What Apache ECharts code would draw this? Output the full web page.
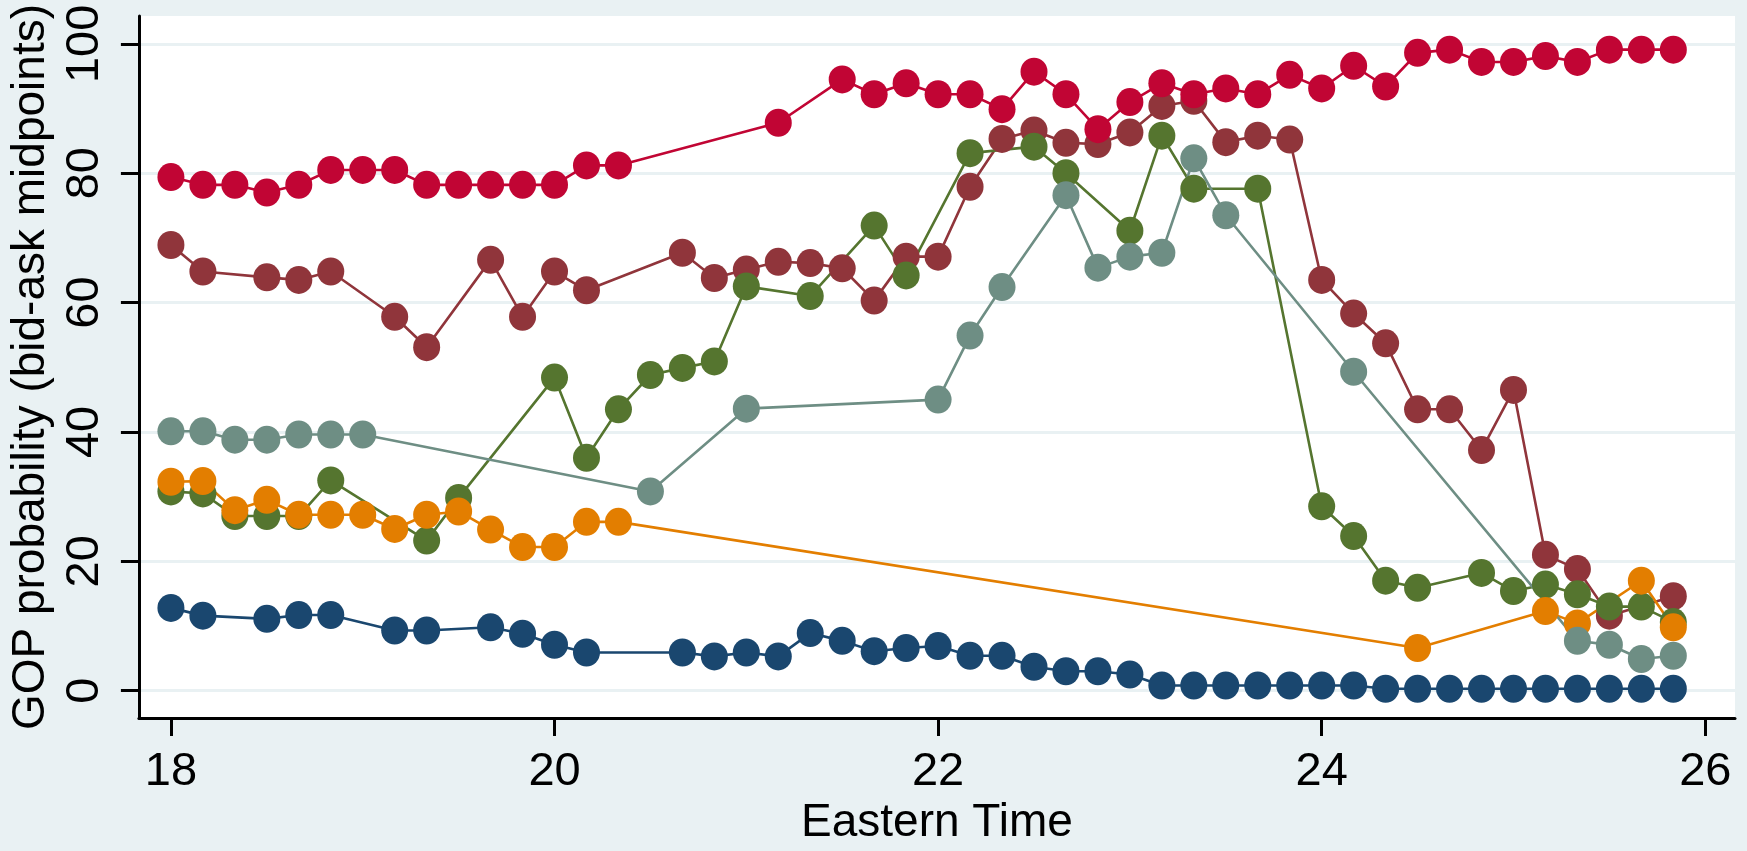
<!DOCTYPE html>
<html>
<head>
<meta charset="utf-8">
<script src="https://cdn.jsdelivr.net/npm/echarts@6/dist/echarts.min.js"></script>
<style>
  html, body { margin: 0; padding: 0; background: #e9f1f3; }
  #chart { width: 1747px; height: 851px; }
</style>
</head>
<body>
<div id="chart"></div>
<script>
// Tick positions
const xTicks = [18, 20, 22, 24, 26];
const yTicks = [0, 20, 40, 60, 80, 100];

// Bid-ask midpoints, [Eastern clock time, GOP probability]
const navySeries = [
  ['18:00', 12.8], ['18:10', 11.6], ['18:30', 11.1], ['18:40', 11.7], ['18:50', 11.7],
  ['19:10', 9.3], ['19:20', 9.3], ['19:40', 9.8], ['19:50', 8.8], ['20:00', 7.1],
  ['20:10', 5.9], ['20:40', 5.9], ['20:50', 5.3], ['21:00', 5.9], ['21:10', 5.3],
  ['21:20', 8.9], ['21:30', 7.7], ['21:40', 6.1], ['21:50', 6.6], ['22:00', 6.9],
  ['22:10', 5.4], ['22:20', 5.4], ['22:30', 3.7], ['22:40', 3.0], ['22:50', 3.0],
  ['23:00', 2.5], ['23:10', 0.8], ['23:20', 0.8], ['23:30', 0.8], ['23:40', 0.8],
  ['23:50', 0.8], ['24:00', 0.8], ['24:10', 0.8], ['24:20', 0.3], ['24:30', 0.3],
  ['24:40', 0.3], ['24:50', 0.3], ['25:00', 0.3], ['25:10', 0.3], ['25:20', 0.3],
  ['25:30', 0.3], ['25:40', 0.3], ['25:50', 0.3]
];

const maroonSeries = [
  ['18:00', 68.9], ['18:10', 64.8], ['18:30', 63.9], ['18:40', 63.5], ['18:50', 64.8],
  ['19:10', 57.8], ['19:20', 53.1], ['19:40', 66.6], ['19:50', 57.8], ['20:00', 64.8],
  ['20:10', 61.9], ['20:40', 67.7], ['20:50', 63.8], ['21:00', 65.1], ['21:10', 66.3],
  ['21:20', 66.1], ['21:30', 65.3], ['21:40', 60.3], ['21:50', 67.1], ['22:00', 67.1],
  ['22:10', 77.9], ['22:20', 85.3], ['22:30', 86.6], ['22:40', 84.7], ['22:50', 84.5],
  ['23:00', 86.3], ['23:10', 90.4], ['23:20', 91.2], ['23:30', 84.8], ['23:40', 85.8],
  ['23:50', 85.2], ['24:00', 63.5], ['24:10', 58.3], ['24:20', 53.7], ['24:30', 43.5],
  ['24:40', 43.5], ['24:50', 37.2], ['25:00', 46.5], ['25:10', 21.0], ['25:20', 18.8],
  ['25:30', 11.6], ['25:50', 14.6]
];

const greenSeries = [
  ['18:00', 30.8], ['18:10', 30.5], ['18:20', 27.0], ['18:30', 27.0], ['18:40', 27.0],
  ['18:50', 32.5], ['19:20', 23.2], ['19:30', 29.8], ['20:00', 48.4], ['20:10', 36.0],
  ['20:20', 43.5], ['20:30', 48.8], ['20:40', 49.9], ['20:50', 50.9], ['21:00', 62.5],
  ['21:20', 61.0], ['21:40', 71.9], ['21:50', 64.2], ['22:10', 83.1], ['22:30', 84.1],
  ['22:40', 80.0], ['23:00', 71.1], ['23:10', 85.8], ['23:20', 77.6], ['23:40', 77.6],
  ['24:00', 28.5], ['24:10', 23.9], ['24:20', 17.0], ['24:30', 15.9], ['24:50', 18.2],
  ['25:00', 15.4], ['25:10', 16.4], ['25:20', 14.9], ['25:30', 13.0], ['25:40', 13.0],
  ['25:50', 10.6]
];

const orangeSeries = [
  ['18:00', 32.3], ['18:10', 32.4], ['18:20', 27.9], ['18:30', 29.5], ['18:40', 27.2],
  ['18:50', 27.2], ['19:00', 27.2], ['19:10', 25.0], ['19:20', 27.2], ['19:30', 27.7],
  ['19:40', 24.9], ['19:50', 22.2], ['20:00', 22.2], ['20:10', 26.1], ['20:20', 26.1],
  ['24:30', 6.6], ['25:10', 12.3], ['25:20', 10.4], ['25:40', 17.0], ['25:50', 9.8]
];

const tealSeries = [
  ['18:00', 40.1], ['18:10', 40.1], ['18:20', 38.8], ['18:30', 38.8], ['18:40', 39.6],
  ['18:50', 39.6], ['19:00', 39.6], ['20:30', 30.8], ['21:00', 43.6], ['22:00', 45.0],
  ['22:10', 54.9], ['22:20', 62.4], ['22:40', 76.6], ['22:50', 65.4], ['23:00', 67.1],
  ['23:10', 67.7], ['23:20', 82.3], ['23:30', 73.5], ['24:10', 49.3], ['25:20', 7.7],
  ['25:30', 7.1], ['25:40', 4.9], ['25:50', 5.4]
];

const cranberrySeries = [
  ['18:00', 79.4], ['18:10', 78.2], ['18:20', 78.2], ['18:30', 77.0], ['18:40', 78.2],
  ['18:50', 80.5], ['19:00', 80.5], ['19:10', 80.5], ['19:20', 78.2], ['19:30', 78.2],
  ['19:40', 78.2], ['19:50', 78.2], ['20:00', 78.2], ['20:10', 81.2], ['20:20', 81.2],
  ['21:10', 87.8], ['21:30', 94.5], ['21:40', 92.2], ['21:50', 93.9], ['22:00', 92.2],
  ['22:10', 92.2], ['22:20', 89.9], ['22:30', 95.7], ['22:40', 92.2], ['22:50', 86.8],
  ['23:00', 91.0], ['23:10', 93.9], ['23:20', 92.2], ['23:30', 93.1], ['23:40', 92.2],
  ['23:50', 95.2], ['24:00', 93.1], ['24:10', 96.6], ['24:20', 93.4], ['24:30', 98.6],
  ['24:40', 99.1], ['24:50', 97.2], ['25:00', 97.2], ['25:10', 98.1], ['25:20', 97.2],
  ['25:30', 99.1], ['25:40', 99.1], ['25:50', 99.1]
];

// Clock time "HH:MM" (hours past midnight may exceed 24) to decimal hours
function toHours(t) {
  const [h, m] = t.split(':').map(Number);
  return h + m / 60;
}
function toPoints(rows) {
  return rows.map(([t, v]) => [toHours(t), v]);
}

// Drawn in this order, later lines on top
const lines = [
  { name: 'navy', rows: navySeries, color: '#1a476f' },
  { name: 'maroon', rows: maroonSeries, color: '#90353b' },
  { name: 'forest green', rows: greenSeries, color: '#55752f' },
  { name: 'dark orange', rows: orangeSeries, color: '#e37e00' },
  { name: 'teal', rows: tealSeries, color: '#6e8e84' },
  { name: 'cranberry', rows: cranberrySeries, color: '#c10534' }
];

const FONT = "'Liberation Sans', Arial, Helvetica, sans-serif";
const chart = echarts.init(document.getElementById('chart'), null, { renderer: 'canvas' });

chart.setOption({
  animation: false,
  backgroundColor: '#e9f1f3',
  grid: {
    left: 138, right: 12, top: 16, bottom: 118,
    show: true, backgroundColor: '#ffffff', borderWidth: 0
  },
  xAxis: {
    type: 'value',
    min: 17.833, max: 26.155,
    name: 'Eastern Time',
    nameLocation: 'middle',
    nameGap: 73,
    nameTextStyle: { fontFamily: FONT, fontSize: 46, color: '#000' },
    axisLine: { show: true, onZero: false, lineStyle: { color: '#000', width: 3 } },
    axisTick: { show: true, customValues: xTicks, length: 18, lineStyle: { color: '#000', width: 3 } },
    axisLabel: { customValues: xTicks, fontFamily: FONT, fontSize: 47, color: '#000', margin: 30 },
    splitLine: { show: false }
  },
  yAxis: {
    type: 'value',
    min: -4.24, max: 104.3,
    name: 'GOP probability (bid-ask midpoints)',
    nameLocation: 'middle',
    nameGap: 78,
    nameTextStyle: { fontFamily: FONT, fontSize: 46, color: '#000' },
    axisLine: { show: true, onZero: false, lineStyle: { color: '#000', width: 3 } },
    axisTick: { show: true, customValues: yTicks, length: 18, lineStyle: { color: '#000', width: 3 } },
    axisLabel: { customValues: yTicks, rotate: 90, fontFamily: FONT, fontSize: 47, color: '#000', margin: 30 },
    splitLine: { show: true, lineStyle: { color: '#e9f1f3', width: 3 } }
  },
  series: lines.map(s => ({
    name: s.name,
    type: 'line',
    data: toPoints(s.rows),
    symbol: 'circle',
    symbolSize: [27, 28],
    showSymbol: true,
    lineStyle: { color: s.color, width: 2.6 },
    itemStyle: { color: s.color },
    emphasis: { disabled: true }
  }))
});
</script>
</body>
</html>
